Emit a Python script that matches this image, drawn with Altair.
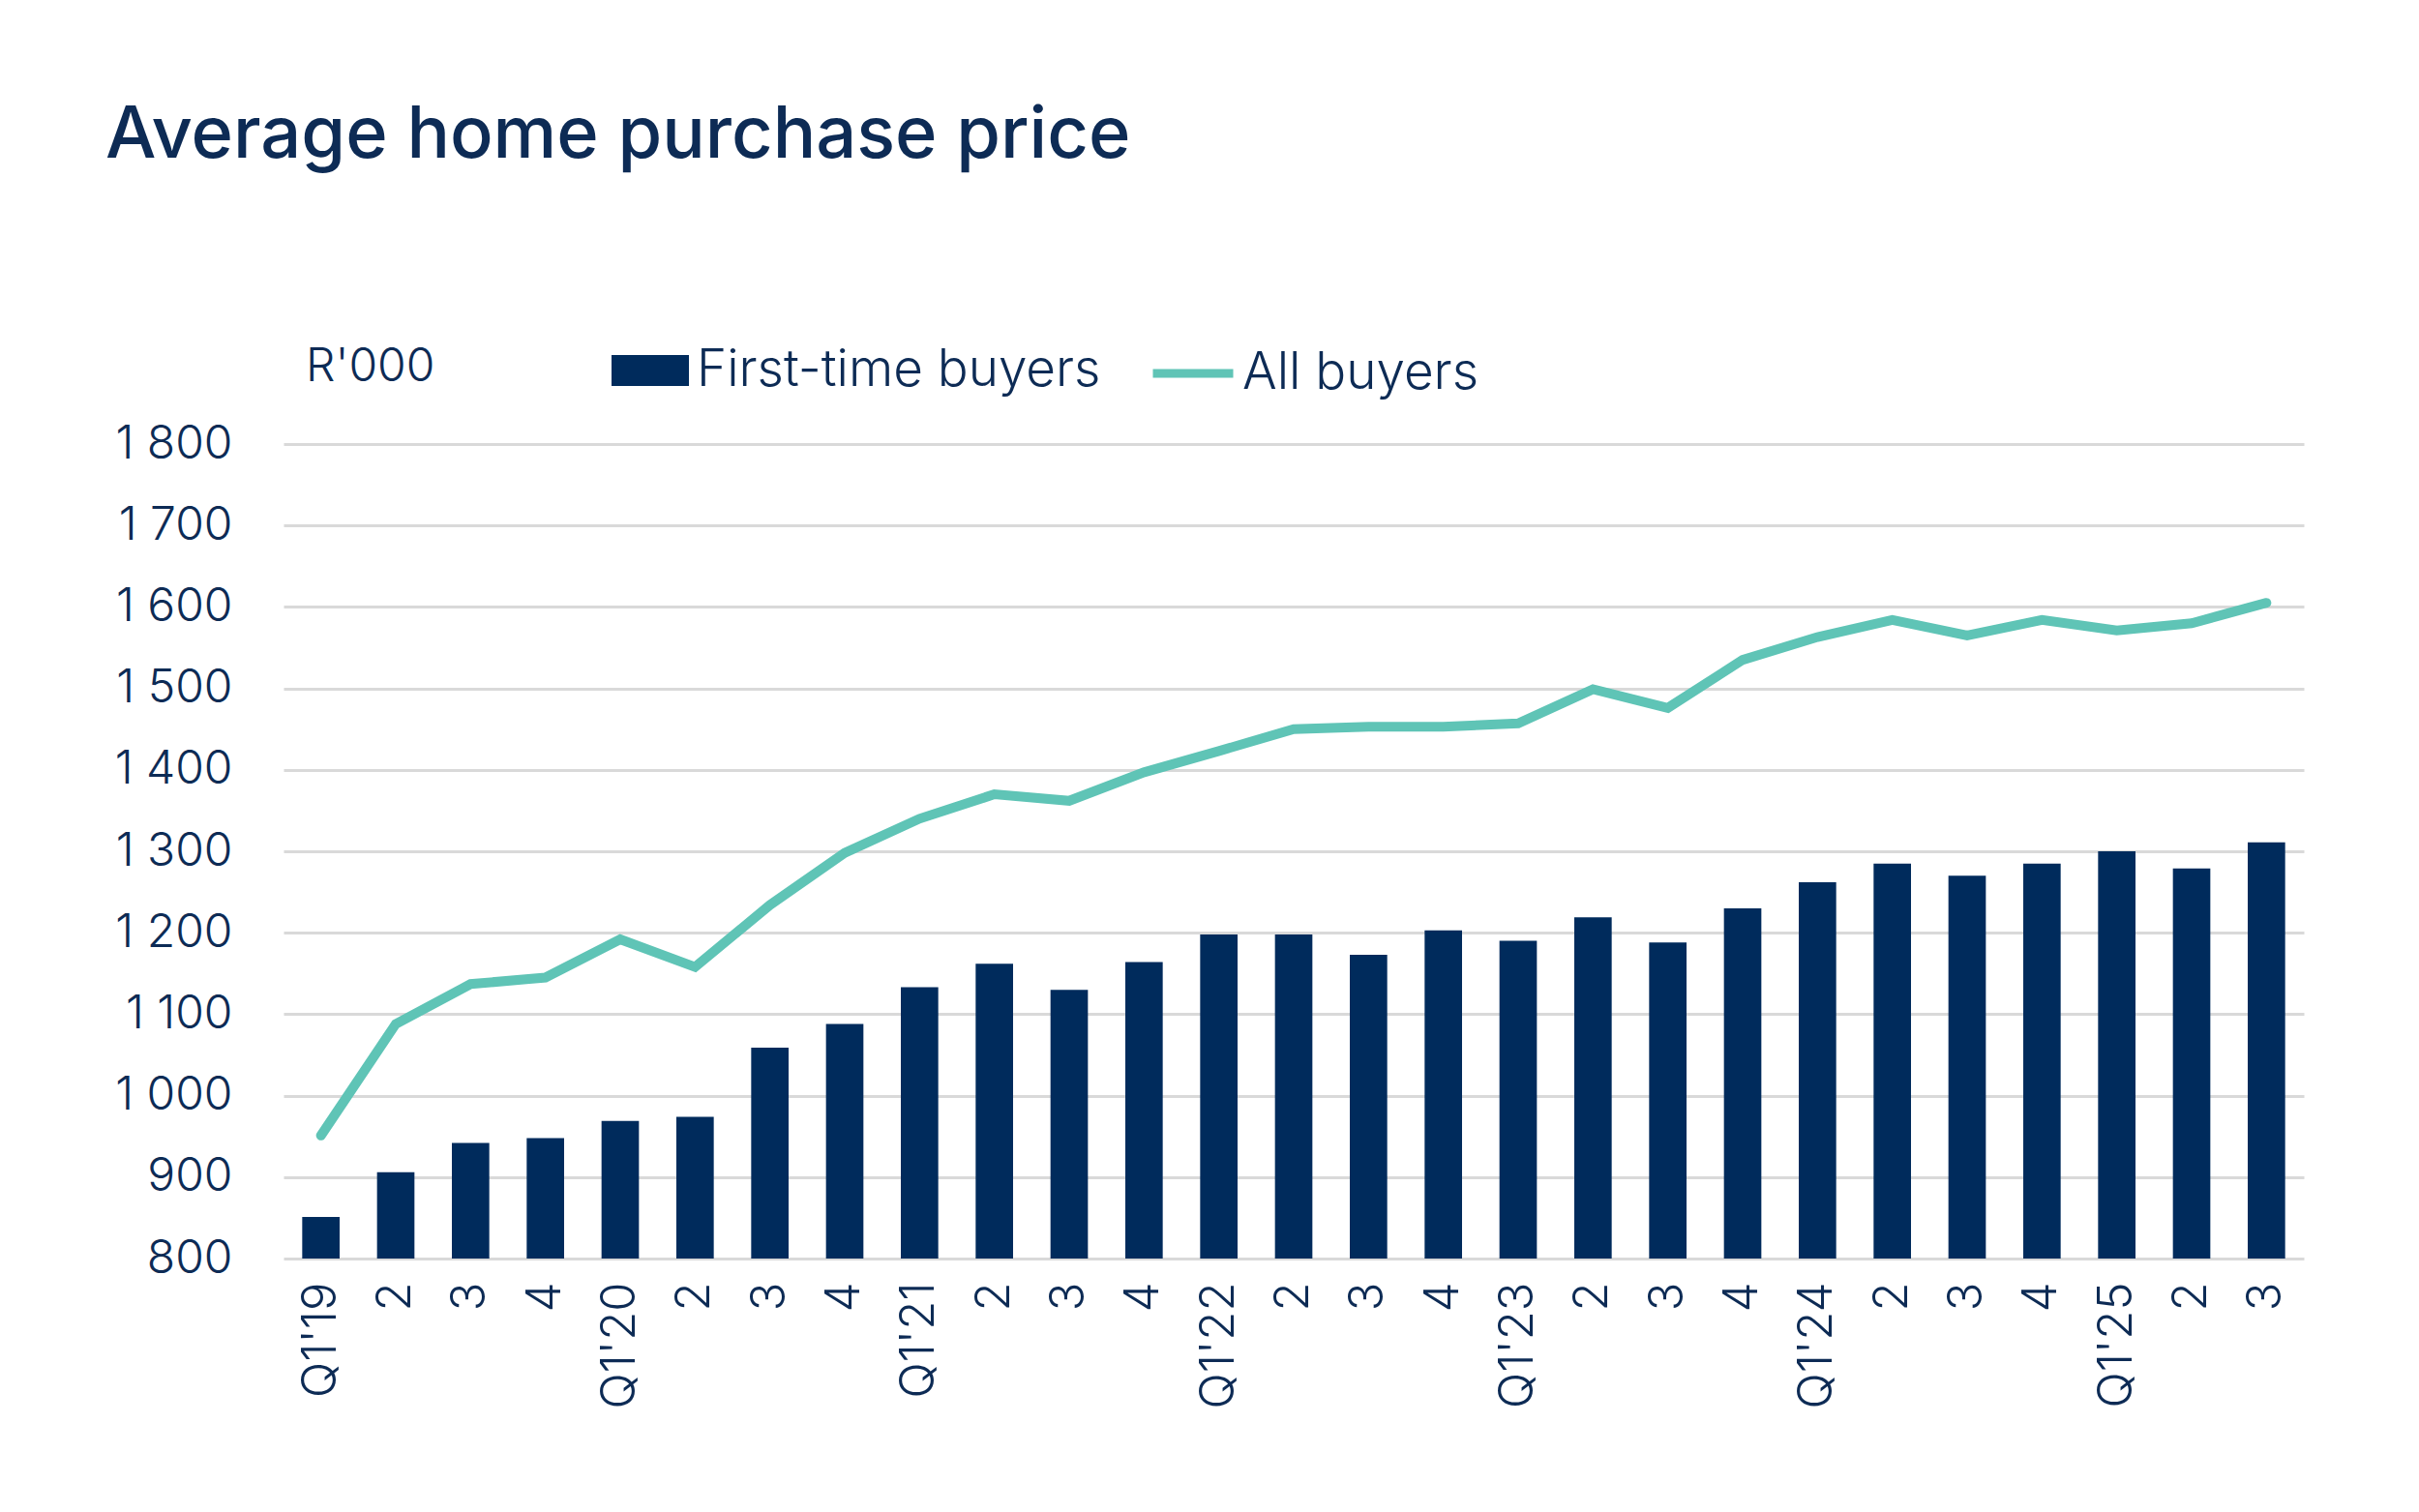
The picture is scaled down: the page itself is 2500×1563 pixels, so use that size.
import json
import altair as alt
import pandas as pd

periods = [f"{y}Q{q}" for y in range(2019, 2026) for q in range(1, 5)][:27]
tick_labels = ["Q1'19", "2", "3", "4", "Q1'20", "2", "3", "4", "Q1'21", "2", "3", "4",
               "Q1'22", "2", "3", "4", "Q1'23", "2", "3", "4", "Q1'24", "2", "3", "4",
               "Q1'25", "2", "3"]
first_time = [851, 906, 942, 948, 969, 974, 1059, 1088, 1133, 1162, 1130, 1164,
              1198, 1198, 1173, 1203, 1190, 1219, 1188, 1230, 1262, 1285, 1270, 1285,
              1300, 1279, 1311]
all_buyers = [951, 1088, 1137, 1145, 1192, 1158, 1234, 1298, 1340, 1370, 1362, 1397,
              1423, 1450, 1453, 1453, 1457, 1499, 1476, 1535, 1563, 1584, 1565, 1584,
              1571, 1580, 1605]
series_names = ["First-time buyers", "All buyers"]
title_text = "Average home purchase price"
unit_text = "R'000"

NAVY = "#002B5C"
TEAL = "#5FC4B6"
TEXT = "#0D2B55"
FONT = "Inter"

df = pd.DataFrame({
    "period": periods,
    "first": first_time,
    "all": all_buyers,
    "s1": series_names[0],
    "s2": series_names[1],
})

label_expr = f"{json.dumps(tick_labels)}[indexof({json.dumps(periods)}, datum.value)]"

x = alt.X("period:N", sort=periods,
          scale=alt.Scale(paddingInner=0.5, paddingOuter=0.25),
          axis=alt.Axis(title=None, labelExpr=label_expr, labelAngle=270,
                        labelFontSize=49, labelColor=TEXT, labelFont=FONT,
                        labelFontWeight=300, labelPadding=24,
                        ticks=False, domain=False, grid=False))

yscale = alt.Scale(domain=[800, 1800], zero=False, nice=False)

base = alt.Chart(df)

bars = base.mark_bar(color=NAVY).encode(
    x=x,
    y=alt.Y("first:Q", scale=yscale,
            axis=alt.Axis(title=None, values=list(range(800, 1801, 100)),
                          labelExpr="replace(format(datum.value, ','), ',', ' ')",
                          labelFontSize=48, labelColor=TEXT, labelFont=FONT,
                          labelFontWeight=300, labelPadding=53,
                          ticks=False, domain=False,
                          gridColor="#D9D9D9", gridWidth=3)),
    y2=alt.datum(800),
    fill=alt.Fill("s1:N", scale=alt.Scale(domain=[series_names[0]], range=[NAVY]),
                  legend=alt.Legend(title=None, orient="none", legendX=339, legendY=-116,
                                    symbolType="M-1,-0.4L1,-0.4L1,0.4L-1,0.4Z",
                                    symbolSize=6400, symbolStrokeWidth=0,
                                    labelFontSize=53, labelFont=FONT, labelColor=TEXT,
                                    labelFontWeight=300, labelOffset=8, labelLimit=0,
                                    padding=0)),
)

line = base.mark_line(strokeWidth=10, strokeCap="round").encode(
    x=x,
    y=alt.Y("all:Q", scale=yscale),
    stroke=alt.Stroke("s2:N", scale=alt.Scale(domain=[series_names[1]], range=[TEAL]),
                      legend=alt.Legend(title=None, orient="none", legendX=894, legendY=-119,
                                        symbolType="stroke", symbolSize=6889,
                                        symbolStrokeWidth=9,
                                        labelFontSize=53, labelFont=FONT, labelColor=TEXT,
                                        labelFontWeight=300, labelOffset=5, labelLimit=0,
                                        padding=0)),
)

title = alt.Chart(pd.DataFrame({"t": [title_text]})).mark_text(
    align="left", baseline="alphabetic", fontSize=74, fontWeight=500,
    font=FONT, color=TEXT
).encode(text="t:N", x=alt.value(-184), y=alt.value(-296))

unit = alt.Chart(pd.DataFrame({"t": [unit_text]})).mark_text(
    align="left", baseline="alphabetic", fontSize=48, fontWeight=300,
    font=FONT, color=TEXT
).encode(text="t:N", x=alt.value(23), y=alt.value(-65))

chart = alt.layer(bars, line, title, unit).resolve_scale(
    fill="independent", stroke="independent"
).properties(
    width=2088, height=842,
    background="white",
    autosize=alt.AutoSizeParams(type="none"),
    padding={"left": 285, "top": 451, "right": 111, "bottom": 254},
).configure_view(strokeWidth=0, stroke="transparent")

chart.save("out.html", embed_options={"renderer": "svg", "actions": False})
